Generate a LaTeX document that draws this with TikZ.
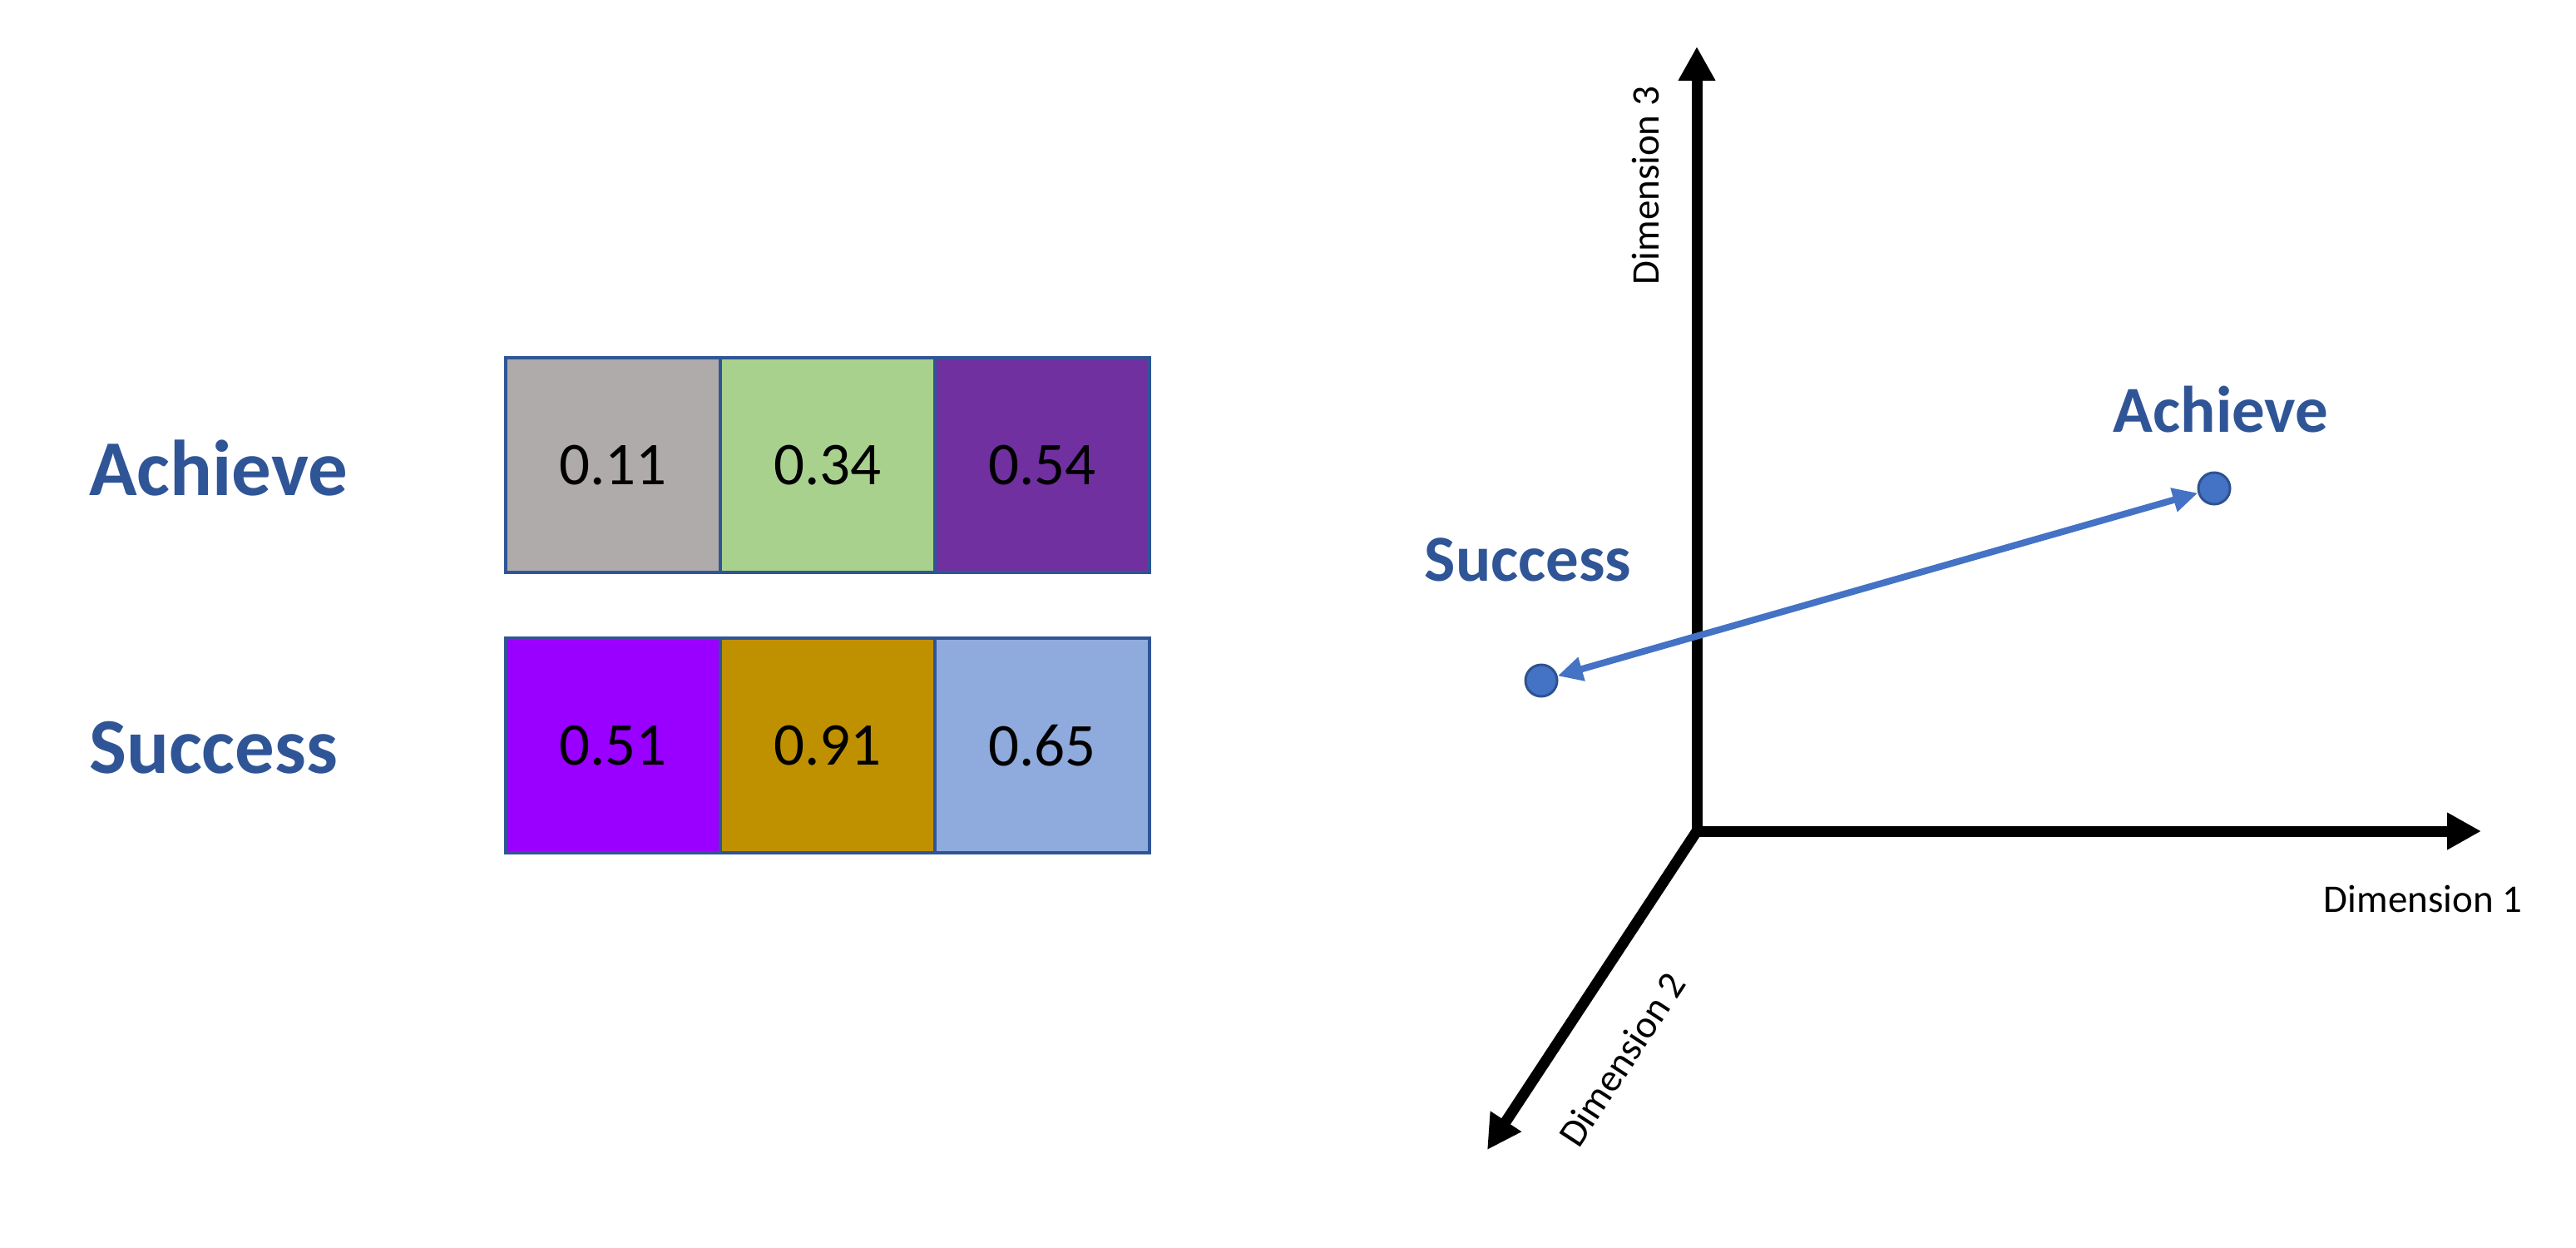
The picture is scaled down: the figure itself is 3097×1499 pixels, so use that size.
\documentclass[tikz,border=0pt]{standalone}
\usepackage{fontspec}
\setmainfont{Carlito}
\usetikzlibrary{arrows.meta}
\definecolor{lblue}{HTML}{2F5597}
\definecolor{bord}{HTML}{2F5597}
\definecolor{cgray}{HTML}{AFABAB}
\definecolor{cgreen}{HTML}{A9D18E}
\definecolor{cpurp}{HTML}{7030A0}
\definecolor{cviol}{HTML}{9900FF}
\definecolor{cgold}{HTML}{BF9000}
\definecolor{clb}{HTML}{8FAADC}
\definecolor{dotc}{HTML}{4472C4}
\definecolor{dotb}{HTML}{2F528F}
\tikzset{
  cell/.style={rectangle, minimum width=256pt, minimum height=257pt, inner sep=0pt, draw=bord, line width=2pt},
  num/.style={font=\fontsize{73}{80}\selectfont, inner sep=0pt},
  word/.style={text=lblue, font=\bfseries\fontsize{95}{100}\selectfont, inner sep=0pt},
  sword/.style={text=lblue, font=\bfseries\fontsize{79}{84}\selectfont, inner sep=0pt},
  axis/.style={line width=13pt, -{Triangle[length=41pt,width=42pt]}},
  dimlbl/.style={font=\fontsize{47}{50}\selectfont, inner sep=0pt},
  dot/.style={circle, minimum size=38pt, inner sep=0pt, fill=dotc, draw=dotb, line width=3pt},
  link/.style={dotc, line width=8pt, {Triangle[length=30pt,width=28pt]}-{Triangle[length=30pt,width=28pt]}}
}
\begin{document}
\begin{tikzpicture}[x=1pt,y=-1pt]
\useasboundingbox (0,0) rectangle (3097,1499);
% left vectors
\node[cell, fill=cgray]  (a1) at (737,559) {};
\node[cell, fill=cgreen] (a2) at (995,559) {};
\node[cell, fill=cpurp]  (a3) at (1253,559) {};
\node[cell, fill=cviol]  (s1) at (737,896) {};
\node[cell, fill=cgold]  (s2) at (995,896) {};
\node[cell, fill=clb]    (s3) at (1253,896) {};
\draw[bord, line width=4pt] (608,430) rectangle (1382,688);
\draw[bord, line width=4pt] (608,767) rectangle (1382,1025);
\node[num] (n11) at (a1) {0.11};
\node[num] (n12) at (a2) {0.34};
\node[num] (n13) at (a3) {0.54};
\node[num] (n21) at (s1) {0.51};
\node[num] (n22) at (s2) {0.91};
\node[num] (n23) at (s3) {0.65};
% left labels
\node[word, anchor=west] (lachieve) at (107,563) {Achieve};
\node[word, anchor=west] (lsuccess) at (107,899) {Success};
% axes
\coordinate (O) at (2040,999);
\coordinate (T3) at (2040,56);
\coordinate (T1) at (2983,999);
\coordinate (T2) at (1788,1382);
\draw[line width=13pt] (2040,1005) -- (2040,999);
\draw[axis] (O) -- (T3);
\draw[axis] (2034,999) -- (T1);
\draw[axis] (O) -- (T2);
\node[dimlbl] (d1) at (2913,1080) {Dimension 1};
\node[dimlbl, rotate=90] (d3) at (1978,223) {Dimension 3};
\node[dimlbl, rotate=56.8] (d2) at (1950,1273) {Dimension 2};
% points
\node[dot] (pa) at (2662,587) {};
\node[dot] (ps) at (1853,818) {};
\draw[link] (ps) -- (pa);
\node[sword] (rachieve) at (2670,492) {Achieve};
\node[sword] (rsuccess) at (1837,673) {Success};
\end{tikzpicture}
\end{document}
